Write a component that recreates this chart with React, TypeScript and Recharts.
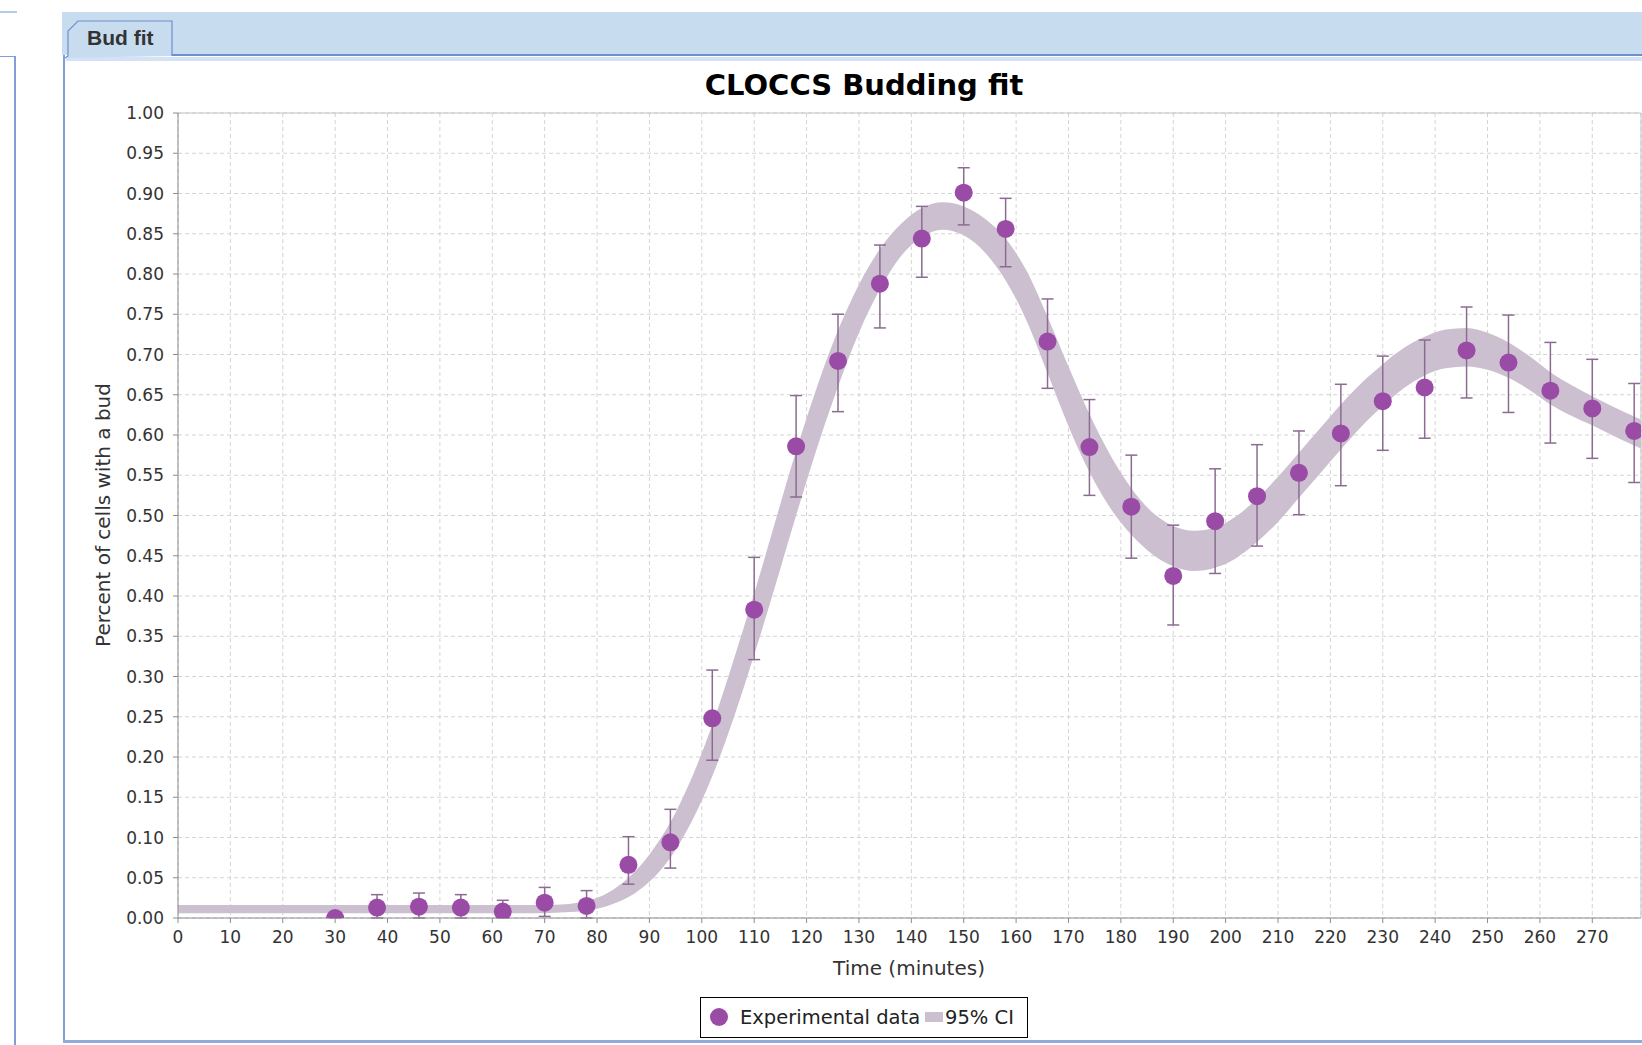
import { ComposedChart, Area, Scatter, ErrorBar, XAxis, YAxis, CartesianGrid, ReferenceLine } from "recharts";

// measured budding index (fraction of budded cells) with error bars
const expTime = [30, 38, 46, 54, 62, 70, 78, 86, 94, 102, 110, 118, 126, 134, 142, 150, 158, 166, 174, 182, 190, 198, 206, 214, 222, 230, 238, 246, 254, 262, 270, 278];
const expValue = [0.0, 0.013, 0.014, 0.013, 0.008, 0.019, 0.015, 0.066, 0.094, 0.248, 0.383, 0.586, 0.692, 0.788, 0.844, 0.901, 0.856, 0.716, 0.585, 0.511, 0.425, 0.493, 0.524, 0.553, 0.602, 0.642, 0.659, 0.705, 0.69, 0.655, 0.633, 0.605];
const expLow = [0.0, 0.0, 0.0, 0.0, 0.0, 0.002, 0.0, 0.042, 0.062, 0.196, 0.321, 0.523, 0.629, 0.733, 0.796, 0.861, 0.809, 0.658, 0.525, 0.447, 0.364, 0.428, 0.462, 0.501, 0.537, 0.581, 0.596, 0.646, 0.628, 0.59, 0.571, 0.541];
const expHigh = [0.004, 0.029, 0.031, 0.029, 0.022, 0.038, 0.034, 0.101, 0.135, 0.308, 0.448, 0.649, 0.75, 0.836, 0.884, 0.932, 0.894, 0.769, 0.644, 0.575, 0.488, 0.558, 0.588, 0.605, 0.663, 0.698, 0.718, 0.759, 0.749, 0.715, 0.694, 0.664];

// 95% CI of the CLOCCS fit
const bandTime = [0, 10, 20, 30, 40, 50, 60, 70, 74, 78, 82, 86, 90, 94, 98, 102, 106, 110, 114, 118, 122, 126, 130, 134, 138, 142, 146, 150, 154, 158, 162, 166, 170, 174, 178, 182, 186, 190, 194, 198, 202, 206, 210, 214, 218, 222, 226, 230, 234, 238, 242, 246, 250, 254, 258, 262, 266, 270, 274, 278, 282];
const bandLow = [0.006, 0.006, 0.006, 0.006, 0.006, 0.006, 0.006, 0.006, 0.007, 0.009, 0.015, 0.026, 0.045, 0.075, 0.119, 0.176, 0.247, 0.327, 0.412, 0.5, 0.584, 0.66, 0.727, 0.781, 0.822, 0.846, 0.855, 0.848, 0.827, 0.792, 0.742, 0.677, 0.611, 0.554, 0.509, 0.476, 0.452, 0.437, 0.431, 0.435, 0.447, 0.467, 0.492, 0.522, 0.552, 0.582, 0.611, 0.636, 0.658, 0.674, 0.683, 0.685, 0.681, 0.671, 0.656, 0.638, 0.624, 0.612, 0.599, 0.587, 0.575];
const bandHigh = [0.016, 0.016, 0.016, 0.016, 0.016, 0.016, 0.016, 0.016, 0.017, 0.021, 0.031, 0.05, 0.079, 0.119, 0.173, 0.24, 0.319, 0.403, 0.492, 0.58, 0.66, 0.73, 0.787, 0.831, 0.862, 0.882, 0.889, 0.884, 0.869, 0.844, 0.804, 0.747, 0.685, 0.626, 0.575, 0.534, 0.504, 0.487, 0.481, 0.485, 0.499, 0.521, 0.548, 0.578, 0.608, 0.638, 0.665, 0.688, 0.708, 0.722, 0.731, 0.733, 0.727, 0.715, 0.698, 0.678, 0.662, 0.648, 0.635, 0.623, 0.611];

const xTicks = [0, 10, 20, 30, 40, 50, 60, 70, 80, 90, 100, 110, 120, 130, 140, 150, 160, 170, 180, 190, 200, 210, 220, 230, 240, 250, 260, 270];
const yTicks = [0, 0.05, 0.1, 0.15, 0.2, 0.25, 0.3, 0.35, 0.4, 0.45, 0.5, 0.55, 0.6, 0.65, 0.7, 0.75, 0.8, 0.85, 0.9, 0.95, 1.0];

const X_MAX = 279.3;
const FONT = "'DejaVu Sans', sans-serif";
const DOT = "#9a4ba6";
const BAND = "#ccc0d0";
const ERR = "#8c6b92";

const bandData = bandTime.map((t, i) => ({ t, range: [bandLow[i], bandHigh[i]] }));
const points = expTime.map((t, i) => ({
  t,
  y: expValue[i],
  err: [expValue[i] - expLow[i], expHigh[i] - expValue[i]],
}));

const Dot = (p: any) => <circle cx={p.cx} cy={p.cy} r={9} fill={DOT} />;

export default function App() {
  return (
    <div style={{ position: "absolute", left: 0, top: 0, width: 1642, height: 1045, overflow: "hidden", background: "#fff" }}>
      {/* left neighbour panel */}
      <div style={{ position: "absolute", left: 0, top: 11, width: 17, height: 2, background: "#b4cbe9" }} />
      <div style={{ position: "absolute", left: -20, top: 56, width: 33, height: 1000, border: "1px solid #7f9fd6", borderRight: "2px solid #7f9fd6" }} />

      {/* tab strip */}
      <div style={{ position: "absolute", left: 62, top: 12, width: 1600, height: 43, background: "#c8dcf0" }} />
      <div style={{ position: "absolute", left: 172, top: 54, width: 1500, height: 2, background: "#6f8fca" }} />
      <div style={{ position: "absolute", left: 66, top: 57, width: 1600, height: 4, background: "#d3e3f5" }} />
      <div style={{ position: "absolute", left: 63, top: 55, width: 2, height: 988, background: "#7f9fd6" }} />
      <div style={{ position: "absolute", left: 63, top: 1040, width: 1600, height: 3, background: "#8fabd9" }} />
      <svg width={1642} height={1045} style={{ position: "absolute", left: 0, top: 0 }}>
        <path d="M65,58 L68,56 L68,31 L78,21 L172,21 L172,56" fill="#c8dcf0" stroke="#6f8fca" strokeWidth={1.2} />
        <text x={87} y={45} fontFamily="'Liberation Sans', Arial, sans-serif" fontWeight="bold" fontSize={21} fill="#333">Bud fit</text>
      </svg>

      <div style={{ position: "absolute", left: 0, top: 0 }}>
        <ComposedChart width={1660} height={1045} data={bandData} margin={{ top: 113, right: 19, bottom: 87, left: 0 }}>
          <CartesianGrid stroke="#d4d4d4" strokeDasharray="4 3" />
          <XAxis
            type="number"
            dataKey="t"
            domain={[0, X_MAX]}
            allowDataOverflow
            ticks={xTicks}
            interval={0}
            height={40}
            tickSize={5}
            tickMargin={8}
            stroke="#8c8c8c"
            tick={{ fill: "#333", fontSize: 17, fontFamily: FONT }}
          />
          <YAxis
            type="number"
            domain={[0, 1]}
            allowDataOverflow
            ticks={yTicks}
            interval={0}
            width={178}
            tickSize={5}
            tickMargin={9}
            stroke="#8c8c8c"
            tickFormatter={(v: number) => v.toFixed(2)}
            tick={{ fill: "#333", fontSize: 17, fontFamily: FONT }}
          />
          <ReferenceLine y={1} stroke="#c4c4c4" />
          <ReferenceLine x={X_MAX} stroke="#c4c4c4" />
          <Area dataKey="range" type="monotone" fill={BAND} fillOpacity={1} stroke="none" isAnimationActive={false} />
          <Scatter data={points} dataKey="y" shape={Dot} isAnimationActive={false}>
            <ErrorBar dataKey="err" direction="y" width={6} stroke={ERR} strokeWidth={1.5} />
          </Scatter>
        </ComposedChart>
      </div>

      {/* titles */}
      <svg width={1642} height={1045} style={{ position: "absolute", left: 0, top: 0, pointerEvents: "none" }}>
        <text x={864} y={95} textAnchor="middle" fontFamily={FONT} fontWeight="bold" fontSize={29} fill="#000">CLOCCS Budding fit</text>
        <text x={909} y={975} textAnchor="middle" fontFamily={FONT} fontSize={20} fill="#333">Time (minutes)</text>
        <text x={110} y={515} textAnchor="middle" fontFamily={FONT} fontSize={20} fill="#333" transform="rotate(-90 110 515)">Percent of cells with a bud</text>
        {/* legend */}
        <rect x={700.5} y={997.5} width={327} height={40} fill="#fff" stroke="#000" />
        <circle cx={719} cy={1017} r={9} fill={DOT} />
        <text x={740} y={1024} fontFamily={FONT} fontSize={19.5} fill="#222">Experimental data</text>
        <rect x={925} y={1012} width={18} height={10} fill={BAND} />
        <text x={945} y={1024} fontFamily={FONT} fontSize={19.5} fill="#222">95% CI</text>
      </svg>
    </div>
  );
}
